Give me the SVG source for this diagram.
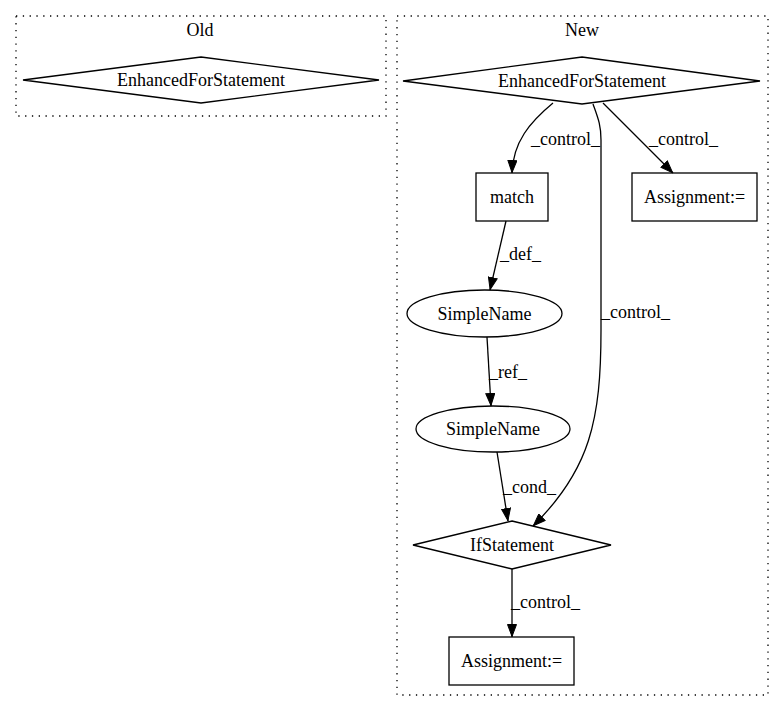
<svg xmlns="http://www.w3.org/2000/svg" width="784" height="712" viewBox="0 0 784 712">
<style>
text{font-family:"Liberation Serif","Times New Roman",serif;font-size:18px;fill:#000}
.c{text-anchor:middle}
.node{fill:none;stroke:#000;stroke-width:1.3}
.cluster{fill:none;stroke:#000;stroke-width:1.3;stroke-dasharray:1.3,5.5}
.edge{fill:none;stroke:#000;stroke-width:1.3;marker-end:url(#ah)}
</style>
<defs>
<marker id="ah" viewBox="0 0 13 10" refX="13" refY="5" markerWidth="13" markerHeight="10" orient="auto" markerUnits="userSpaceOnUse">
<path d="M0.5,0.5 L12.5,5 L0.5,9.5 Z" fill="#000" stroke="#000" stroke-width="1"/>
</marker>
</defs>
<rect width="784" height="712" fill="#fff"/>
<g id="cluster_old">
<rect class="cluster" x="16" y="16" width="370" height="100"/>
<text class="c" x="200" y="36">Old</text>
</g>
<g id="cluster_new">
<rect class="cluster" x="397" y="16" width="371" height="679"/>
<text class="c" x="582" y="36">New</text>
</g>
<g id="old_efs">
<polygon class="node" points="201,57 379,80 201,103 23,80"/>
<text class="c" x="201" y="86">EnhancedForStatement</text>
</g>
<g id="new_efs">
<polygon class="node" points="582,57 760,81 582,104 403,81"/>
<text class="c" x="582" y="87">EnhancedForStatement</text>
</g>
<g id="match">
<rect class="node" x="476" y="173" width="72" height="48"/>
<text class="c" x="512" y="203">match</text>
</g>
<g id="assign1">
<rect class="node" x="632" y="173" width="125" height="48"/>
<text class="c" x="694.5" y="203">Assignment:=</text>
</g>
<g id="simplename1">
<ellipse class="node" cx="484.5" cy="313.5" rx="77.5" ry="23.5"/>
<text class="c" x="484.5" y="319.5">SimpleName</text>
</g>
<g id="simplename2">
<ellipse class="node" cx="493" cy="429" rx="77" ry="23"/>
<text class="c" x="493" y="435">SimpleName</text>
</g>
<g id="ifstatement">
<polygon class="node" points="512,521 611,545 512,569 413,545"/>
<text class="c" x="512" y="551">IfStatement</text>
</g>
<g id="assign2">
<rect class="node" x="449" y="637" width="125" height="48"/>
<text class="c" x="511.5" y="667">Assignment:=</text>
</g>
<g id="edges">
<path class="edge" d="M553,103 C530,122 513,142 512,173"/>
<text x="531" y="145">_control_</text>
<path class="edge" d="M603,103 L673,173"/>
<text x="649" y="145">_control_</text>
<path class="edge" d="M593,104 C598,118 601,125 601,140 L601,330 C601,420 590,470 533,526"/>
<text x="601" y="318">_control_</text>
<path class="edge" d="M506,221 L490,290"/>
<text x="500" y="260">_def_</text>
<path class="edge" d="M487,337 L491,406"/>
<text x="489" y="378">_ref_</text>
<path class="edge" d="M497,452 L508,521"/>
<text x="503" y="493">_cond_</text>
<path class="edge" d="M512,569 L512,637"/>
<text x="511" y="608">_control_</text>
</g>
</svg>
